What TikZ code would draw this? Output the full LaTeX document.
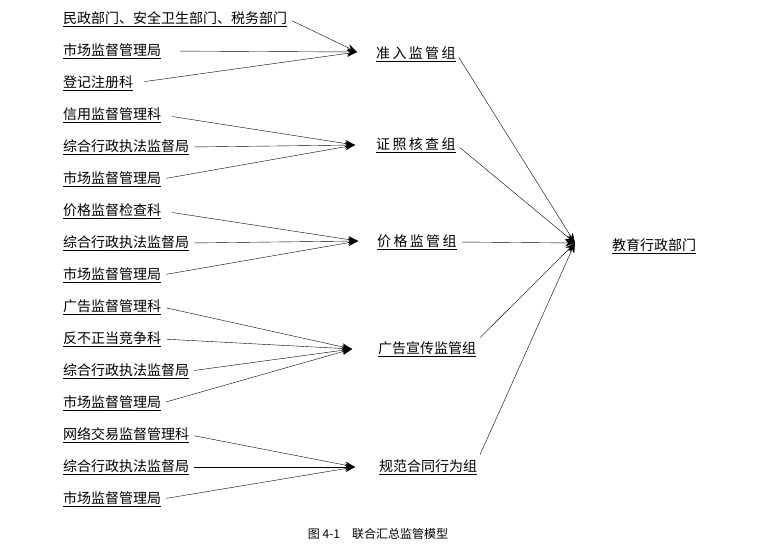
\documentclass[tikz,border=0pt]{standalone}
\usepackage{fontspec}
\setmainfont{Noto Sans CJK SC}
\usetikzlibrary{arrows.meta}
\tikzset{src/.style={anchor=west,inner sep=1pt,font=\fontsize{14}{16}\selectfont},
  grp/.style={anchor=west,inner sep=1pt,font=\fontsize{14}{16}\selectfont},
  link/.style={-{Stealth[length=10pt,width=7pt]},thin,shorten <=4pt},
  back/.style={thin,shorten <=3pt}}
\begin{document}
\begin{tikzpicture}[x=1pt,y=-1pt]
  \useasboundingbox (0,0) rectangle (769,550);
  % sources
  \node[src] (a1) at (62,19) {\underline{民政部门、安全卫生部门、税务部门}};
  \node[src] (a2) at (62,51) {\underline{市场监督管理局}};
  \node[src] (a3) at (62,83) {\underline{登记注册科}};
  \node[src] (b1) at (62,115) {\underline{信用监督管理科}};
  \node[src] (b2) at (62,147) {\underline{综合行政执法监督局}};
  \node[src] (b3) at (62,179) {\underline{市场监督管理局}};
  \node[src] (c1) at (62,211) {\underline{价格监督检查科}};
  \node[src] (c2) at (62,243) {\underline{综合行政执法监督局}};
  \node[src] (c3) at (62,275) {\underline{市场监督管理局}};
  \node[src] (d1) at (62,307) {\underline{广告监督管理科}};
  \node[src] (d2) at (62,339) {\underline{反不正当竞争科}};
  \node[src] (d3) at (62,371) {\underline{综合行政执法监督局}};
  \node[src] (d4) at (62,403) {\underline{市场监督管理局}};
  \node[src] (e1) at (62,435) {\underline{网络交易监督管理科}};
  \node[src] (e2) at (62,467) {\underline{综合行政执法监督局}};
  \node[src] (e3) at (62,499) {\underline{市场监督管理局}};
  % groups
  \node[grp] (ga) at (375,54) {\underline{准\,入\,监\,管\,组}};
  \node[grp] (gb) at (375,145) {\underline{证\,照\,核\,查\,组}};
  \node[grp] (gc) at (376,242) {\underline{价\,格\,监\,管\,组}};
  \node[grp] (gd) at (377,349) {\underline{广告宣传监管组}};
  \node[grp] (ge) at (378,467) {\underline{规范合同行为组}};
  \node[grp] (edu) at (611,246) {\underline{教育行政部门}};
  % arrow tips
  \coordinate (ta) at (357,52);
  \coordinate (tb) at (355,145);
  \coordinate (tc) at (358,241);
  \coordinate (td) at (352,349);
  \coordinate (te) at (355,467);
  \coordinate (tx) at (575,243);
  \draw[link] (a1.east) -- (ta);
  \draw[link,shorten <=18pt] (a2.east) -- (ta);
  \draw[link,shorten <=10pt] (a3.east) -- (ta);
  \draw[link,shorten <=10pt] (b1.east) -- (tb);
  \draw[link] (b2.east) -- (tb);
  \draw[link] (b3.east) -- (tb);
  \draw[link,shorten <=10pt] (c1.east) -- (tc);
  \draw[link] (c2.east) -- (tc);
  \draw[link] (c3.east) -- (tc);
  \draw[link] (d1.east) -- (td);
  \draw[link] (d2.east) -- (td);
  \draw[link] (d3.east) -- (td);
  \draw[link] (d4.east) -- (td);
  \draw[link] (e1.east) -- (te);
  \draw[link] (e2.east) -- (te);
  \draw[link] (e3.east) -- (te);
  \draw[link] (ga.east) -- (tx);
  \draw[link] (gb.east) -- (tx);
  \draw[link] (gc.east) -- (tx);
  \draw[link] (gd.north east) -- (tx);
  \draw[link] (ge.north east) -- (tx);
  \node[font=\fontsize{12}{14}\selectfont] (cap) at (378,534) {图 4-1\quad 联合汇总监管模型};
\end{tikzpicture}
\end{document}
